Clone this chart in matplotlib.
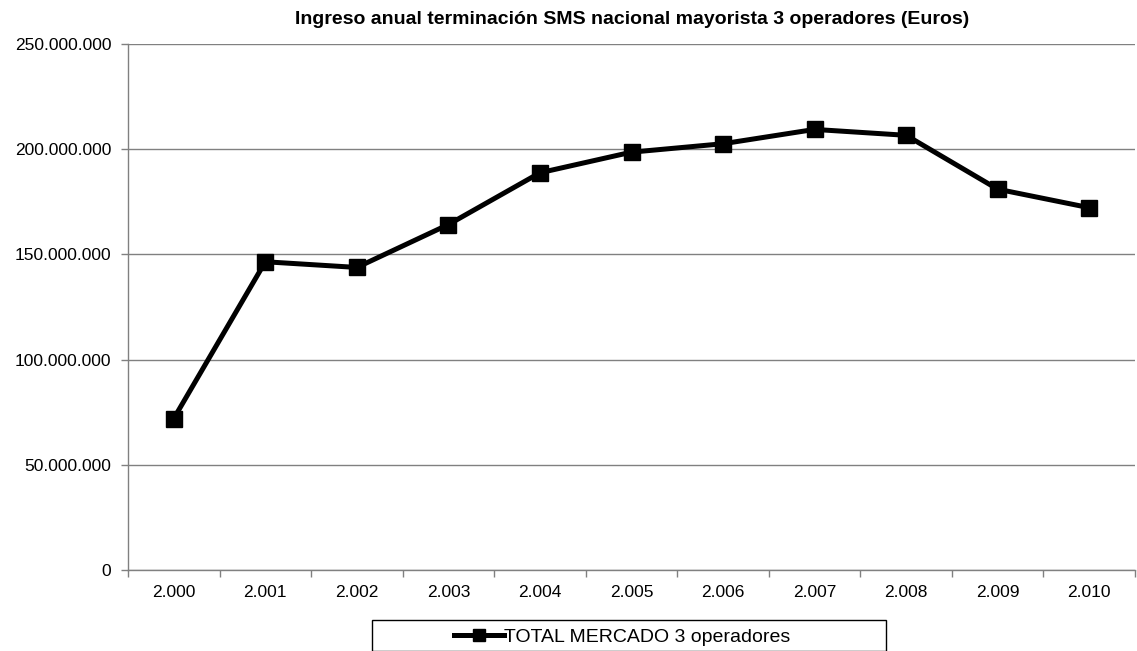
import matplotlib
matplotlib.use("Agg")
import matplotlib.pyplot as plt
from matplotlib.patches import Rectangle
from matplotlib.ticker import FuncFormatter, FixedLocator, NullFormatter

plt.rcParams['font.family'] = ['Liberation Sans', 'DejaVu Sans']

years = ["2.000", "2.001", "2.002", "2.003", "2.004", "2.005",
         "2.006", "2.007", "2.008", "2.009", "2.010"]
values = [72.0e6, 146.5e6, 143.8e6, 164.2e6, 188.8e6, 198.6e6,
          202.6e6, 209.4e6, 206.6e6, 181.0e6, 172.2e6]
series_name = "TOTAL MERCADO 3 operadores"
title = "Ingreso anual terminación SMS nacional mayorista 3 operadores (Euros)"

W, H = 1137, 651
fig = plt.figure(figsize=(W / 100, H / 100), dpi=100)
ax = fig.add_axes([128 / W, 1 - 570 / H, (1135 - 128) / W, (570 - 44) / H])

x = list(range(len(years)))
line, = ax.plot(x, values, color='black', lw=3.6, marker='s', markersize=11.5,
                markerfacecolor='black', markeredgecolor='black',
                label=series_name, solid_joinstyle='miter', zorder=3)

ax.set_xlim(-0.5, len(years) - 0.5)
ax.set_ylim(0, 250e6)
ax.set_yticks([0, 50e6, 100e6, 150e6, 200e6, 250e6])
ax.yaxis.set_major_formatter(FuncFormatter(lambda v, p: "0" if v == 0 else f"{int(v):,}".replace(",", ".")))
ax.yaxis.grid(True, color='#808080', lw=1)
ax.set_axisbelow(True)

ax.set_xticks(x)
ax.set_xticklabels(years)
ax.tick_params(axis='x', which='major', length=0, pad=11, labelsize=12.5)
ax.xaxis.set_minor_locator(FixedLocator([i - 0.5 for i in range(len(years) + 1)]))
ax.xaxis.set_minor_formatter(NullFormatter())
ax.tick_params(axis='x', which='minor', length=5, color='#808080', width=1, direction='out')
ax.tick_params(axis='y', length=5, color='#808080', width=1, direction='out', labelsize=12.5, pad=7)

for s in ['top', 'right']:
    ax.spines[s].set_visible(False)
for s in ['left', 'bottom']:
    ax.spines[s].set_color('#808080')
    ax.spines[s].set_linewidth(1)

fig.text(632 / W, 1 - 20 / H, title, ha='center', va='center', fontsize=14, fontweight='bold')

leg = fig.legend(handles=[line], labels=[series_name], loc='center',
                 bbox_to_anchor=(622 / W, 1 - 637 / H), frameon=False,
                 fontsize=14, handlelength=2.6, handletextpad=0.0, markerscale=0.7)

fig.patches.append(Rectangle((372 / W, 0), (886 - 372) / W, (651 - 620) / H,
                             transform=fig.transFigure, fill=False, edgecolor='black', lw=1))

fig.savefig("out.png", dpi=100)
